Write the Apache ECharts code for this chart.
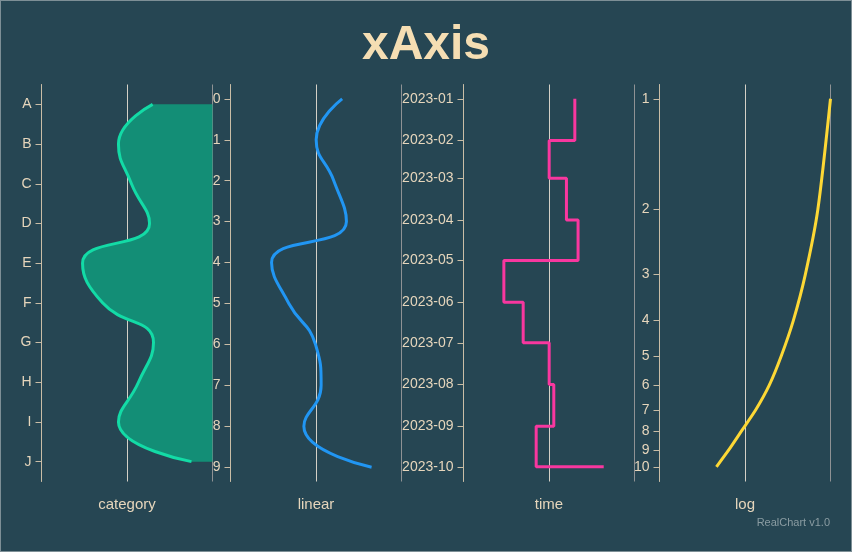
<!DOCTYPE html>
<html><head><meta charset="utf-8">
<script src="https://cdn.jsdelivr.net/npm/echarts@6/dist/echarts.min.js"></script>
<style>
html,body{margin:0;padding:0;background:#264653}
#wrap{position:relative;width:852px;height:552px}
#c{position:absolute;left:0;top:0;width:852px;height:552px}
#frame{position:absolute;left:0;top:0;width:852px;height:552px;box-sizing:border-box;border:1px solid #7d8f96;pointer-events:none}
</style>
</head><body><div id="wrap"><div id="c"></div><div id="frame"></div></div><script>
const categories = ['A','B','C','D','E','F','G','H','I','J'];
const categoryValues = [65, 45, 52.6, 63.2, 24, 35.7, 65.5, 56.7, 45, 87.7];
const linearPositions = [0,1,2,3,4,5,6,7,8,9];
const linearValues = [65.3, 50.1, 60.4, 67.8, 24.0, 34.1, 49.7, 53.0, 42.9, 82.5];
const timeMonths = ['2023-01','2023-02','2023-03','2023-04','2023-05','2023-06','2023-07','2023-08','2023-09','2023-10'];
const timeValues = [65.1, 50.1, 60.2, 67.0, 23.6, 34.9, 50.1, 52.8, 42.5, 82.0];
const logPositions = [1,2,3,4,5,6,7,8,9,10];
const logValues = [100, 92.6, 85.3, 78.3, 71.2, 64.2, 56.3, 47.9, 40.5, 33.3];
const axisNames = ['category','linear','time','log'];

const FONT = '"Liberation Sans", Arial, sans-serif';
const AXIS_COLOR = '#c9bda6';
const LABEL_COLOR = '#e6d6bc';
const DAY = 86400000;
const toTime = s => { const p = s.split('-'); return new Date(+p[0], +p[1]-1, 1).getTime(); };
const timeStamps = timeMonths.map(toTime);
const fmtMonth = v => { const d = new Date(v); return d.getFullYear() + '-' + String(d.getMonth()+1).padStart(2,'0'); };

const gridLefts = [41.5, 230.5, 463.5, 659.5];
const grids = gridLefts.map(l => ({left: l, width: 171, top: 84.5, height: 397}));

const xAxes = axisNames.map((n, i) => ({
  type: 'value', gridIndex: i, min: 0, max: 100, interval: 50,
  name: n, nameLocation: 'middle', nameGap: 16,
  nameTextStyle: {color: LABEL_COLOR, fontSize: 15, fontFamily: FONT},
  axisLine: {show: false}, axisTick: {show: false}, axisLabel: {show: false},
  splitLine: {show: true, lineStyle: {width: 1, color: ['rgba(0,0,0,0)', '#d4d0c6', '#8f9294']}}
}));

const commonY = {
  inverse: true,
  axisLine: {show: true, lineStyle: {color: AXIS_COLOR, width: 1}},
  axisTick: {show: true, length: 6, lineStyle: {color: AXIS_COLOR}},
  axisLabel: {color: LABEL_COLOR, fontSize: 14, fontFamily: FONT, margin: 10},
  splitLine: {show: false}
};

const yAxes = [
  Object.assign({}, commonY, {type: 'category', gridIndex: 0, data: categories, boundaryGap: true,
    axisTick: Object.assign({}, commonY.axisTick, {alignWithLabel: true})}),
  Object.assign({}, commonY, {type: 'value', gridIndex: 1, min: -0.35, max: 9.35,
    axisTick: Object.assign({}, commonY.axisTick, {customValues: linearPositions}),
    axisLabel: Object.assign({}, commonY.axisLabel, {customValues: linearPositions})}),
  Object.assign({}, commonY, {type: 'value', gridIndex: 2,
    min: timeStamps[0] - 10.6 * DAY, max: timeStamps[timeStamps.length-1] + 10.9 * DAY,
    axisTick: Object.assign({}, commonY.axisTick, {customValues: timeStamps}),
    axisLabel: Object.assign({}, commonY.axisLabel, {customValues: timeStamps, formatter: fmtMonth})}),
  Object.assign({}, commonY, {type: 'log', logBase: 10, gridIndex: 3, min: 0.9146, max: 10.963,
    axisTick: Object.assign({}, commonY.axisTick, {customValues: logPositions}),
    axisLabel: Object.assign({}, commonY.axisLabel, {customValues: logPositions})})
];

const chart = echarts.init(document.getElementById('c'), null, {renderer: 'canvas'});
chart.setOption({
  backgroundColor: '#264653',
  animation: false,
  textStyle: {fontFamily: FONT},
  title: {text: 'xAxis', left: 'center', top: 17,
    textStyle: {color: '#f5deb3', fontSize: 48, fontWeight: 'bold', fontFamily: FONT}},
  graphic: [{type: 'text', right: 22, top: 517,
    style: {text: 'RealChart v1.0', fill: '#8a9ca2', fontSize: 11, fontFamily: FONT}}],
  grid: grids,
  xAxis: xAxes,
  yAxis: yAxes,
  series: [
    {type: 'line', xAxisIndex: 0, yAxisIndex: 0, smooth: true, symbol: 'none',
      data: categoryValues,
      lineStyle: {color: '#13dba6', width: 3},
      areaStyle: {origin: 'end', color: '#138e76', opacity: 1}},
    {type: 'line', xAxisIndex: 1, yAxisIndex: 1, smooth: true, symbol: 'none',
      data: linearValues.map((v, i) => [v, linearPositions[i]]),
      lineStyle: {color: '#2196f3', width: 3}},
    {type: 'line', xAxisIndex: 2, yAxisIndex: 2, step: 'start', symbol: 'none',
      data: timeValues.map((v, i) => [v, timeStamps[i]]),
      lineStyle: {color: '#f8379f', width: 3}},
    {type: 'line', xAxisIndex: 3, yAxisIndex: 3, smooth: 0.25, symbol: 'none',
      data: logValues.map((v, i) => [v, logPositions[i]]),
      lineStyle: {color: '#fdd835', width: 3, join: 'round'}}
  ]
});
</script></body></html>
